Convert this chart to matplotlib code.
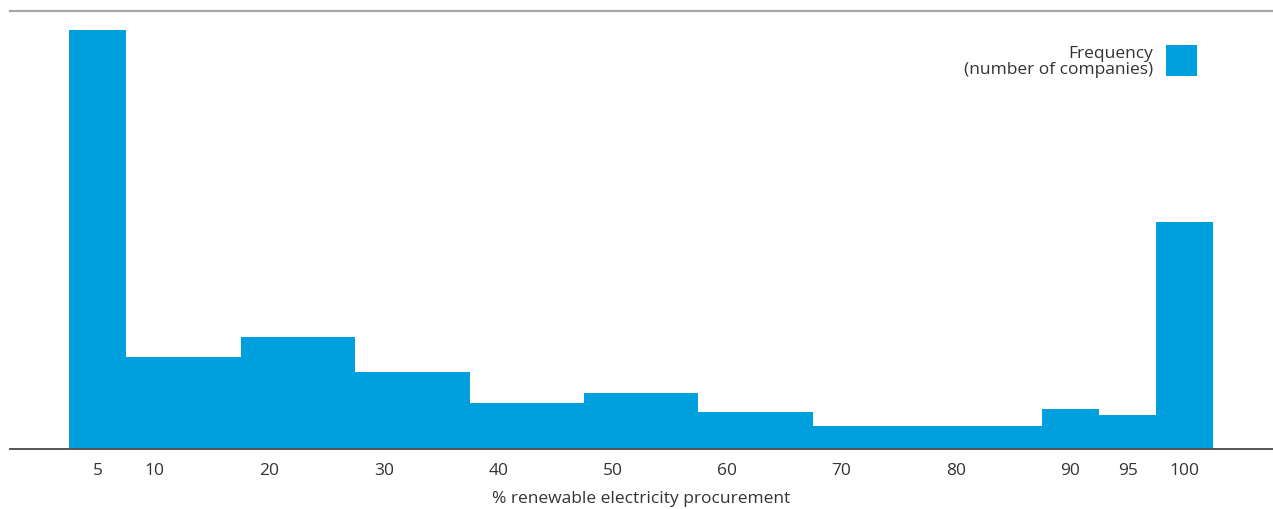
import matplotlib
matplotlib.use("Agg")
import matplotlib.pyplot as plt
from matplotlib.patches import Rectangle

# Bins of renewable electricity share (%) and company counts per bin
bin_edges = [2.5, 7.5, 17.5, 27.5, 37.5, 47.5, 57.5, 67.5, 77.5, 87.5, 92.5, 97.5, 102.5]
counts = [146, 32, 39, 27, 16, 19.5, 13, 8, 8, 14, 12, 79]
tick_values = [5, 10, 20, 30, 40, 50, 60, 70, 80, 90, 95, 100]
tick_labels = ["5", "10", "20", "30", "40", "50", "60", "70", "80", "90", "95", "100"]

BLUE = "#00A0DF"
TEXT = "#333333"
FS = 12.5
W, H = 1273, 509

plt.rcParams["font.family"] = ["Open Sans", "DejaVu Sans"]

fig = plt.figure(figsize=(W / 100, H / 100), dpi=100)
ax = fig.add_axes([10 / W, 60 / H, 1263 / W, 438.5 / H])

lefts = bin_edges[:-1]
widths = [b - a for a, b in zip(bin_edges[:-1], bin_edges[1:])]
ax.bar(lefts, counts, width=widths, align="edge", color=BLUE, linewidth=0)

ax.set_xlim(-2.66, 107.7)
ax.set_ylim(0, 152.8)

ax.set_xticks(tick_values)
ax.set_xticklabels(tick_labels, fontsize=FS, color=TEXT)
ax.set_yticks([])
ax.tick_params(axis="x", length=0, pad=10)

for side in ("left", "right"):
    ax.spines[side].set_visible(False)
ax.spines["top"].set_color("#A6A6A6")
ax.spines["top"].set_linewidth(1.6)
ax.spines["bottom"].set_color("#555555")
ax.spines["bottom"].set_linewidth(1.4)

ax.set_xlabel("% renewable electricity procurement", fontsize=FS, color=TEXT,
              labelpad=8.5)

# Legend: right-aligned caption with a square swatch
fig.text(1153 / W, 1 - 58 / H, "Frequency", ha="right", va="baseline",
         fontsize=FS, color=TEXT)
fig.text(1153 / W, 1 - 74.5 / H, "(number of companies)", ha="right",
         va="baseline", fontsize=FS, color=TEXT)
fig.patches.append(Rectangle((1166 / W, 1 - 76 / H), 31 / W, 31 / H,
                             transform=fig.transFigure, facecolor=BLUE,
                             edgecolor="none"))

fig.savefig("out.png", dpi=100)
